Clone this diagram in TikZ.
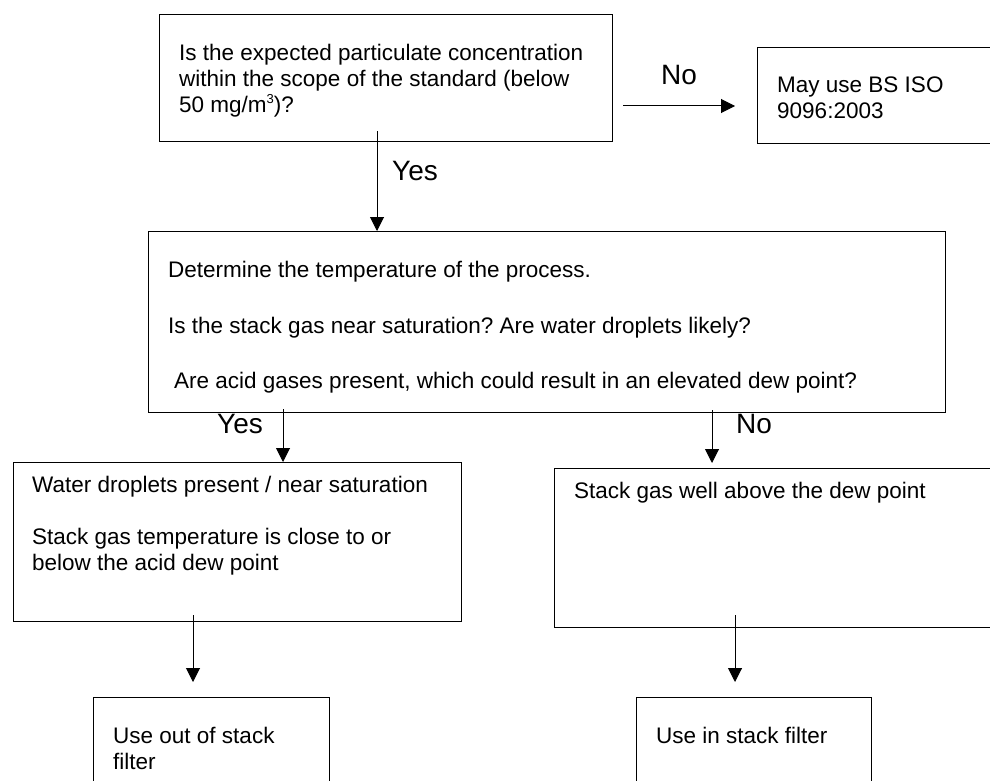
\documentclass[tikz,border=0pt]{standalone}
\usepackage{fontspec}
\setmainfont{Liberation Sans}
\frenchspacing
\usetikzlibrary{arrows.meta}
\newcommand{\supthree}{\raisebox{0.42em}{\fontsize{13}{13}\selectfont 3}}
\begin{document}
\begin{tikzpicture}[x=1pt,y=-1pt,
  box/.style={draw=black,line width=1.3pt,inner sep=0pt,anchor=north west},
  txt/.style={anchor=base west,inner sep=0pt,font=\fontsize{22.5}{26}\selectfont},
  lbl/.style={anchor=base west,inner sep=0pt,font=\fontsize{28}{32}\selectfont},
  arr/.style={line width=1pt,-{Triangle[length=14pt,width=14pt]}}]
\useasboundingbox (0,0) rectangle (990,781);
\clip (0,0) rectangle (990,781);
% boxes
\node[box,minimum width=453pt,minimum height=127pt] (b1) at (159,14) {};
\node[box,minimum width=243pt,minimum height=96pt] (b2) at (757,47) {};
\node[box,minimum width=797pt,minimum height=181pt] (b3) at (148,231) {};
\node[box,minimum width=448pt,minimum height=159pt] (b4) at (13,462) {};
\node[box,minimum width=446pt,minimum height=159pt] (b5) at (554,468) {};
\node[box,minimum width=236pt,minimum height=123pt] (b6) at (93,697) {};
\node[box,minimum width=235pt,minimum height=123pt] (b7) at (636,697) {};
% texts
\node[txt] (t1a) at (179,61) {Is the expected particulate concentration};
\node[txt] (t1b) at (179,87) {within the scope of the standard (below};
\node[txt] (t1c) at (179,113) {50 mg/m\supthree)?};
\node[txt] (t2a) at (777,93) {May use BS ISO};
\node[txt] (t2b) at (777,119) {9096:2003};
\node[txt] (t3a) at (168,277) {Determine the temperature of the process.};
\node[txt] (t3b) at (168,333) {Is the stack gas near saturation? Are water droplets likely?};
\node[txt] (t3c) at (174,388) {Are acid gases present, which could result in an elevated dew point?};
\node[txt] (t4a) at (32,492) {Water droplets present / near saturation};
\node[txt] (t4b) at (32,544) {Stack gas temperature is close to or};
\node[txt] (t4c) at (32,570) {below the acid dew point};
\node[txt] (t5a) at (574,498) {Stack gas well above the dew point};
\node[txt] (t6a) at (113,743) {Use out of stack};
\node[txt] (t6b) at (113,769) {filter};
\node[txt] (t7a) at (656,743) {Use in stack filter};
% labels
\node[lbl] (l1) at (392,180) {Yes};
\node[lbl] (l2) at (661,85) {No};
\node[lbl] (l3) at (217,433) {Yes};
\node[lbl] (l4) at (736,433) {No};
% arrow guides
\coordinate (ax1) at (377,0);
\coordinate (ay1) at (0,106);
\coordinate (ax2) at (283,0);
\coordinate (ax3) at (712,0);
\coordinate (ax4) at (193,0);
\coordinate (ax5) at (735,0);
% arrows
\draw[arr,shorten <=-11pt] (b1.south -| ax1) -- (b3.north -| ax1);
\draw[arr,shorten <=10pt,shorten >=22pt] (b1.east |- ay1) -- (b2.west |- ay1);
\draw[arr,shorten <=-4pt] (b3.south -| ax2) -- (b4.north -| ax2);
\draw[arr,shorten <=-3pt,shorten >=5pt] (b3.south -| ax3) -- (b5.north -| ax3);
\draw[arr,shorten <=-7pt,shorten >=15pt] (b4.south -| ax4) -- (b6.north -| ax4);
\draw[arr,shorten <=-13pt,shorten >=15pt] (b5.south -| ax5) -- (b7.north -| ax5);
\end{tikzpicture}
\end{document}
